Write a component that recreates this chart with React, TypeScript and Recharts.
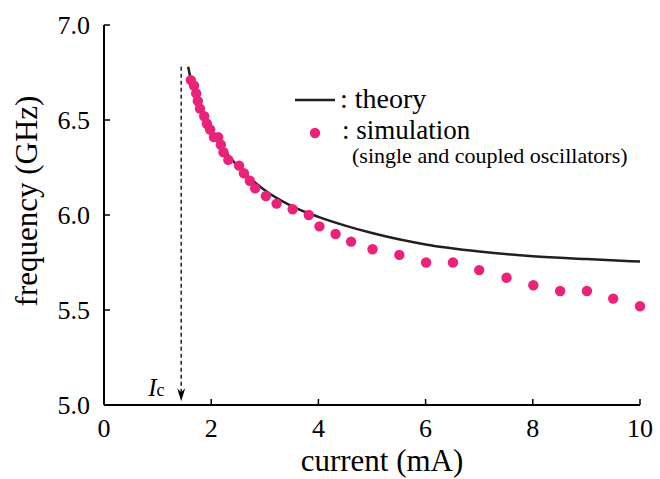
import React from "react";
import {
  ComposedChart,
  Line,
  Scatter,
  XAxis,
  YAxis,
  ReferenceLine,
  ReferenceDot,
} from "recharts";

const xTicks = [0, 2, 4, 6, 8, 10];
const yTicks = [5.0, 5.5, 6.0, 6.5, 7.0];

// theory curve
const theory = [
  { x: 1.57, f: 6.78 },
  { x: 1.6, f: 6.74 },
  { x: 1.65, f: 6.69 },
  { x: 1.7, f: 6.645 },
  { x: 1.8, f: 6.57 },
  { x: 1.9, f: 6.505 },
  { x: 2.0, f: 6.45 },
  { x: 2.2, f: 6.36 },
  { x: 2.5, f: 6.255 },
  { x: 2.8, f: 6.175 },
  { x: 3.0, f: 6.13 },
  { x: 3.5, f: 6.047 },
  { x: 4.0, f: 5.99 },
  { x: 4.5, f: 5.944 },
  { x: 5.0, f: 5.905 },
  { x: 5.5, f: 5.872 },
  { x: 6.0, f: 5.845 },
  { x: 7.0, f: 5.808 },
  { x: 8.0, f: 5.783 },
  { x: 9.0, f: 5.768 },
  { x: 10.0, f: 5.755 },
];

// simulation points (single and coupled oscillators)
const simulation = [
  { x: 1.62, f: 6.71 },
  { x: 1.68, f: 6.68 },
  { x: 1.72, f: 6.64 },
  { x: 1.75, f: 6.6 },
  { x: 1.79, f: 6.56 },
  { x: 1.87, f: 6.52 },
  { x: 1.92, f: 6.48 },
  { x: 1.98, f: 6.45 },
  { x: 2.05, f: 6.41 },
  { x: 2.13, f: 6.41 },
  { x: 2.18, f: 6.37 },
  { x: 2.23, f: 6.33 },
  { x: 2.32, f: 6.29 },
  { x: 2.52, f: 6.26 },
  { x: 2.61, f: 6.22 },
  { x: 2.72, f: 6.18 },
  { x: 2.82, f: 6.14 },
  { x: 3.02, f: 6.1 },
  { x: 3.22, f: 6.06 },
  { x: 3.52, f: 6.03 },
  { x: 3.82, f: 6.0 },
  { x: 4.02, f: 5.94 },
  { x: 4.32, f: 5.9 },
  { x: 4.61, f: 5.86 },
  { x: 5.01, f: 5.82 },
  { x: 5.51, f: 5.79 },
  { x: 6.01, f: 5.75 },
  { x: 6.51, f: 5.75 },
  { x: 7.0, f: 5.71 },
  { x: 7.51, f: 5.67 },
  { x: 8.01, f: 5.63 },
  { x: 8.51, f: 5.6 },
  { x: 9.01, f: 5.6 },
  { x: 9.5, f: 5.56 },
  { x: 10.0, f: 5.52 },
];

const criticalCurrent = 1.44;
const arrowTop = 6.78;
const arrowTip = 5.02;

const PINK = "#ea2279";
const INK = "#231f20";
const FONT = '"Liberation Serif", "DejaVu Serif", serif';

const axisLine = { stroke: "#000", strokeWidth: 2 };
const tickLine = { stroke: "#000", strokeWidth: 1.5 };
const tickStyle = { fill: "#000", fontSize: 26, fontFamily: FONT };

const Dot = (props: any) => <circle cx={props.cx} cy={props.cy} r={5.2} fill={PINK} />;

const ArrowHead = (props: any) => {
  const { cx, cy } = props;
  return (
    <g>
      <path
        d={`M${cx},${cy} L${cx - 4},${cy - 13} L${cx},${cy - 9} L${cx + 4},${cy - 13} Z`}
        fill="#000"
      />
      <text x={cx - 33} y={cy - 5} fontSize={25} fontStyle="italic" style={{ fontFamily: FONT }} fill="#000">
        I
        <tspan fontStyle="normal" fontSize={18}>
          c
        </tspan>
      </text>
    </g>
  );
};

// y title sits a little above the plot centre in the reference
const YTitle = (props: any) => {
  const vb = props.viewBox;
  const cy = vb.y + vb.height / 2 - 14;
  return (
    <text
      x={37}
      y={cy}
      transform={`rotate(-90 37 ${cy})`}
      textAnchor="middle"
      fontSize={31}
      style={{ fontFamily: FONT }}
      fill="#000"
    >
      frequency (GHz)
    </text>
  );
};

const XTitle = (props: any) => {
  const vb = props.viewBox;
  const cx = vb.x + vb.width / 2 + 10;
  return (
    <text x={cx} y={471} textAnchor="middle" fontSize={31} style={{ fontFamily: FONT }} fill="#000">
      current (mA)
    </text>
  );
};

const Legend = () => (
  <svg
    width={660}
    height={479}
    style={{ position: "absolute", left: 0, top: 0, pointerEvents: "none", fontFamily: FONT }}
  >
    <line x1={295} y1={100} x2={335} y2={100} stroke={INK} strokeWidth={2.5} />
    <text x={340} y={108} fontSize={28} fill="#000">
      : theory
    </text>
    <circle cx={315} cy={133} r={5.2} fill={PINK} />
    <text x={342} y={139} fontSize={27} fill="#000">
      : simulation
    </text>
    <text x={352} y={163} fontSize={22} fill="#000">
      (single and coupled oscillators)
    </text>
  </svg>
);

export default function App() {
  return (
    <div
      style={{
        position: "absolute",
        left: 0,
        top: 0,
        width: 660,
        height: 479,
        background: "#fff",
        fontFamily: FONT,
      }}
    >
      <ComposedChart
        width={660}
        height={479}
        margin={{ top: 25, right: 20, bottom: 0, left: 0 }}
        style={{ fontFamily: FONT }}
      >
        <XAxis
          type="number"
          dataKey="x"
          domain={[0, 10]}
          ticks={xTicks}
          height={74}
          axisLine={axisLine}
          tickLine={tickLine}
          tickSize={-6}
          tickMargin={20}
          tick={tickStyle}
          label={{ content: XTitle }}
        />
        <XAxis
          xAxisId="top"
          orientation="top"
          type="number"
          dataKey="x"
          domain={[0, 10]}
          ticks={xTicks}
          height={0}
          axisLine={axisLine}
          tickLine={tickLine}
          tickSize={-6}
          tick={() => <g />}
        />
        <YAxis
          type="number"
          domain={[5, 7]}
          ticks={yTicks}
          width={104}
          axisLine={axisLine}
          tickLine={tickLine}
          tickSize={-6}
          tickMargin={20}
          tick={tickStyle}
          tickFormatter={(v: number) => v.toFixed(1)}
          label={{ content: YTitle }}
        />
        <YAxis
          yAxisId="right"
          orientation="right"
          type="number"
          domain={[5, 7]}
          ticks={yTicks}
          width={0}
          axisLine={axisLine}
          tickLine={tickLine}
          tickSize={-6}
          tick={() => <g />}
        />
        <ReferenceLine
          segment={[
            { x: criticalCurrent, y: arrowTop },
            { x: criticalCurrent, y: arrowTip + 0.03 },
          ]}
          stroke="#000"
          strokeWidth={1.3}
          strokeDasharray="4 3"
        />
        <ReferenceDot x={criticalCurrent} y={arrowTip} shape={ArrowHead} />
        <Line
          data={theory}
          dataKey="f"
          type="monotone"
          stroke={INK}
          strokeWidth={2.5}
          dot={false}
          isAnimationActive={false}
        />
        <Scatter data={simulation} dataKey="f" fill={PINK} shape={Dot} isAnimationActive={false} />
      </ComposedChart>
      <Legend />
    </div>
  );
}
